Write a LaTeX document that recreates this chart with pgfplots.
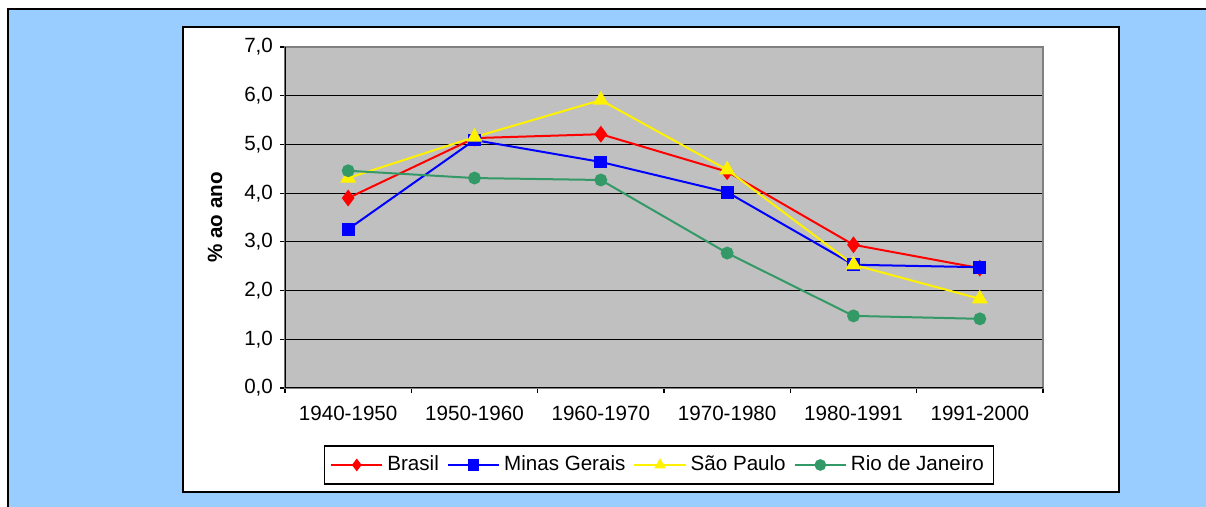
\documentclass[border=0pt]{standalone}
\usepackage{fontspec}
\setmainfont{Liberation Sans}
\usepackage{pgfplots}
\pgfplotsset{compat=1.18}
\definecolor{bgblue}{HTML}{99CCFF}
\definecolor{plotgray}{HTML}{C0C0C0}
\definecolor{rjgreen}{HTML}{339966}
\definecolor{framegray}{HTML}{808080}

\begin{document}
\begin{tikzpicture}
% backgrounds (1 px = 0.5pt, origin at the plot's lower left corner)
\fill[white] (-142.5pt,-59.5pt) rectangle (460.5pt,194pt);
\fill[bgblue] (-138.5pt,-59.5pt) rectangle (460.5pt,189.5pt);
\draw[black, line width=1pt] (-138.5pt,-59.5pt) -- (-138.5pt,189.5pt) -- (460.5pt,189.5pt);
\filldraw[fill=white, draw=black, line width=0.8pt] (-51pt,-52pt) rectangle (417pt,180.5pt);

\begin{axis}[
  at={(0,0)}, anchor=south west,
  scale only axis,
  width=379pt, height=170.5pt,
  xmin=-0.5, xmax=5.5,
  ymin=0, ymax=7,
  axis background/.style={fill=plotgray},
  axis line style={draw=framegray, line width=1pt},
  xtick={0,1,2,3,4,5},
  xticklabels={1940-1950,1950-1960,1960-1970,1970-1980,1980-1991,1991-2000},
  minor xtick={-0.5,0.5,1.5,2.5,3.5,4.5,5.5},
  major x tick style={draw=none},
  minor x tick style={black, line width=0.6pt},
  ytick={0,1,...,7},
  y tick style={black, line width=0.6pt},
  tick align=outside,
  major tick length=2.5pt, minor tick length=2.5pt,
  xtick pos=bottom, ytick pos=left,
  ymajorgrids,
  major grid style={black, line width=0.6pt},
  tick label style={font=\fontsize{10.3}{12}\selectfont},
  xticklabel style={yshift=-3pt},
  yticklabel style={/pgf/number format/.cd, fixed, fixed zerofill, precision=1, use comma, assume math mode=true},
  ylabel={\textbf{\% ao ano}},
  ylabel style={at={(axis description cs:-0.0923,0.5)}, anchor=center, font=\fontsize{10.3}{12}\selectfont},
  legend columns=4,
  legend style={at={(axis description cs:0.4934,-0.2258)}, anchor=center,
    draw=black, line width=0.6pt, font=\fontsize{10.3}{12}\selectfont,
    /tikz/every even column/.append style={column sep=2pt},
    inner sep=3pt},
  legend image code/.code={\draw[mark repeat=2, mark phase=2, mark size=2.4pt] plot coordinates {(0cm,0cm)(0.45cm,0cm)(0.9cm,0cm)};},
  every axis plot/.append style={line width=1pt},
]
\addplot[red, mark=diamond*, mark size=3.4pt, mark options={solid, fill=red}] coordinates {
  (0,3.90)(1,5.13)(2,5.21)(3,4.44)(4,2.94)(5,2.46)};
\addlegendentry{Brasil}
\addplot[blue, mark=square*, mark size=2.7pt, mark options={solid, fill=blue}] coordinates {
  (0,3.26)(1,5.09)(2,4.64)(3,4.02)(4,2.53)(5,2.48)};
\addlegendentry{Minas Gerais}
\addplot[yellow, mark=triangle*, mark size=3.6pt, mark options={solid, fill=yellow}] coordinates {
  (0,4.31)(1,5.15)(2,5.91)(3,4.48)(4,2.53)(5,1.83)};
\addlegendentry{São Paulo}
\addplot[rjgreen, mark=*, mark size=2.7pt, mark options={solid, fill=rjgreen}] coordinates {
  (0,4.46)(1,4.31)(2,4.27)(3,2.77)(4,1.48)(5,1.42)};
\addlegendentry{Rio de Janeiro}
\draw[black, line width=1pt] (rel axis cs:0,1) -- (rel axis cs:0,0) -- (rel axis cs:1,0);
\end{axis}
\pgfresetboundingbox
\useasboundingbox (-142.5pt,-59.5pt) rectangle (460.5pt,194pt);
\end{tikzpicture}
\end{document}
